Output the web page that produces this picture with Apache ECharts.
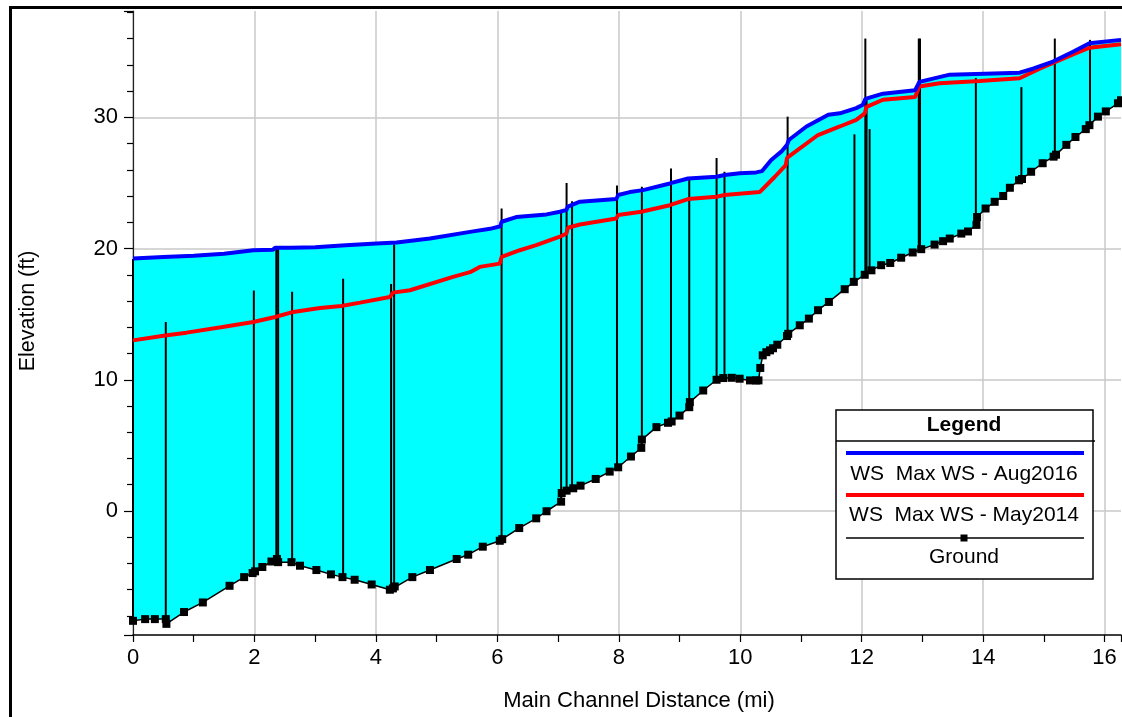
<!DOCTYPE html>
<html lang="en">
<head>
    <meta charset="UTF-8" />
    <title>Profile Plot</title>
    <script src="https://cdn.jsdelivr.net/npm/echarts@6/dist/echarts.min.js"></script>
    <style>
        html, body { margin: 0; padding: 0; background: #fff; }
        #main { width: 1122px; height: 717px; }
    </style>
</head>
<body>
    <div id="main"></div>
<script type="text/javascript">
    // ground profile (mi, ft)
    var groundMi = [0, 0.2, 0.36, 0.54, 0.55, 0.84, 1.15, 1.59, 1.83, 1.97, 2.01, 2.13, 2.28, 2.37, 2.39, 2.61, 2.75,
        3.02, 3.26, 3.45, 3.65, 3.93, 4.23, 4.28, 4.31, 4.6, 4.89, 5.33, 5.52, 5.76, 6.04, 6.08, 6.36, 6.64, 6.81,
        7.05, 7.06, 7.14, 7.25, 7.37, 7.62, 7.85, 7.99, 8.2, 8.37, 8.38, 8.62, 8.81, 8.87, 9.0, 9.16, 9.17, 9.39,
        9.61, 9.72, 9.86, 9.99, 10.16, 10.26, 10.3, 10.33, 10.37, 10.43, 10.49, 10.54, 10.61, 10.77, 10.79, 10.98,
        11.13, 11.28, 11.46, 11.72, 11.87, 12.05, 12.16, 12.32, 12.47, 12.65, 12.84, 12.98, 13.2, 13.34, 13.45,
        13.64, 13.75, 13.89, 13.9, 14.04, 14.19, 14.33, 14.44, 14.59, 14.64, 14.79, 14.98, 15.16, 15.2, 15.37,
        15.52, 15.69, 15.75, 15.89, 16.02, 16.22, 16.27];
    var groundFt = [-8.37, -8.24, -8.24, -8.24, -8.6, -7.7, -6.97, -5.7, -5.04, -4.73, -4.6, -4.27, -3.85, -3.66, -3.9, -3.9, -4.17,
        -4.5, -4.83, -5.04, -5.24, -5.6, -6.0, -5.9, -5.75, -5.04, -4.5, -3.66, -3.33, -2.72, -2.27, -2.15, -1.3, -0.56, -0.02,
        0.71, 1.37, 1.55, 1.73, 1.93, 2.44, 3.0, 3.33, 4.15, 4.81, 5.44, 6.39, 6.72, 6.82, 7.27, 7.91, 8.3, 9.18,
        10.0, 10.13, 10.15, 10.08, 9.95, 9.95, 9.95, 10.9, 11.86, 12.1, 12.24, 12.4, 12.67, 13.33, 13.5, 14.15,
        14.66, 15.3, 15.93, 16.9, 17.46, 18.0, 18.34, 18.73, 18.9, 19.3, 19.7, 19.95, 20.3, 20.56, 20.76,
        21.14, 21.3, 21.8, 22.4, 23.05, 23.56, 24.0, 24.63, 25.2, 25.3, 25.85, 26.5, 27.0, 27.15, 27.9,
        28.5, 29.1, 29.4, 30.05, 30.45, 31.07, 31.3];

    // WS Max WS - Aug2016
    var augMi = [0, 0.5, 1.0, 1.5, 1.98, 2.3, 2.34, 2.6, 3.0, 3.5, 4.01, 4.34, 4.89, 5.55, 5.88, 6.05, 6.07, 6.31,
        6.81, 7.03, 7.14, 7.16, 7.36, 7.96, 7.99, 8.18, 8.4, 8.84, 9.14, 9.61, 9.74, 9.99, 10.26, 10.36, 10.51,
        10.68, 10.77, 10.8, 11.09, 11.45, 11.64, 11.91, 12.02, 12.06, 12.35, 12.88, 12.95, 13.45, 14.6, 14.82,
        15.15, 15.48, 15.75, 16.27];
    var augFt = [19.24, 19.35, 19.45, 19.6, 19.87, 19.9, 20.05, 20.05, 20.1, 20.25, 20.38, 20.46, 20.76, 21.27, 21.5, 21.7, 22.04, 22.4,
        22.6, 22.8, 22.95, 23.2, 23.57, 23.77, 24.08, 24.3, 24.45, 24.96, 25.34, 25.47, 25.6, 25.73, 25.8, 25.9, 26.75,
        27.4, 27.9, 28.27, 29.3, 30.2, 30.3, 30.7, 30.95, 31.4, 31.8, 32.06, 32.7, 33.25, 33.4, 33.7,
        34.25, 35.0, 35.65, 35.9];

    // WS Max WS - May2014
    var mayMi = [0, 0.53, 0.88, 1.45, 1.98, 2.34, 2.64, 3.08, 3.43, 3.74, 4.23, 4.28, 4.56, 5.27, 5.55, 5.71, 6.04,
        6.07, 6.37, 6.64, 7.03, 7.14, 7.16, 7.36, 7.96, 7.99, 8.37, 8.84, 9.14, 9.61, 9.74, 10.32, 10.57, 10.75,
        10.77, 11.28, 11.64, 11.91, 12.05, 12.08, 12.35, 12.88, 12.95, 13.28, 13.94, 14.6, 14.93, 15.48, 15.75, 16.27];
    var mayFt = [13.0, 13.38, 13.59, 14.0, 14.4, 14.78, 15.17, 15.47, 15.62, 15.88, 16.31, 16.64, 16.82, 17.84, 18.2, 18.6, 18.85,
        19.36, 19.87, 20.26, 20.9, 21.15, 21.58, 21.83, 22.29, 22.55, 22.8, 23.3, 23.77, 23.95, 24.08, 24.3, 25.47, 26.36,
        26.9, 28.65, 29.3, 29.8, 30.3, 30.8, 31.34, 31.55, 32.35, 32.6, 32.77, 32.98, 33.7, 34.8, 35.3, 35.57];

    // structure verticals: station, bottom, top
    var structMi = [0, 0.54, 1.99, 2.36, 2.39, 2.62, 3.46, 4.25, 4.3, 6.07, 7.05, 7.14, 7.23, 7.97, 8.38, 8.86,
        9.16, 9.61, 9.74, 10.78, 11.88, 12.06, 12.08, 12.13, 12.94, 12.96, 13.88, 14.63, 15.18, 15.76];
    var structBot = [-8.4, -8.3, -4.7, -3.7, -3.8, -3.9, -5.0, -5.9, -5.8, -2.2, 0.7, 1.5, 1.7, 3.3, 4.9, 6.8,
        7.9, 10.0, 10.1, 13.4, 17.4, 18.0, 18.1, 18.2, 19.9, 19.9, 21.7, 25.2, 27.1, 29.4];
    var structTop = [19.2, 14.4, 16.8, 20.0, 20.0, 16.7, 17.7, 17.3, 20.3, 23.05, 22.7, 25.0, 23.6, 24.8, 24.7, 26.1,
        25.45, 26.9, 25.85, 30.05, 28.7, 36.0, 31.5, 29.1, 36.0, 36.0, 33.0, 32.3, 36.0, 35.9];

    var FONT = "'Liberation Sans', Arial, sans-serif";

    function zip(a, b) {
        var out = [];
        for (var i = 0; i < a.length; i++) out.push([a[i], b[i]]);
        return out;
    }
    var structData = [];
    for (var i = 0; i < structMi.length; i++) structData.push([structMi[i], structBot[i], structTop[i]]);

    // legend box, drawn on top of the plot
    var legendItems = [
        { type: 'rect', shape: { x: 836, y: 410, width: 257, height: 169 }, style: { fill: '#fff', stroke: '#000', lineWidth: 1.5 } },
        { type: 'line', shape: { x1: 836, y1: 441, x2: 1095, y2: 441 }, style: { stroke: '#000', lineWidth: 1.5 } },
        { type: 'text', x: 964, y: 425, style: { text: 'Legend', font: 'bold 21px ' + FONT, fill: '#000', align: 'center', verticalAlign: 'middle' } },
        { type: 'line', shape: { x1: 846, y1: 453, x2: 1084, y2: 453 }, style: { stroke: '#0000ff', lineWidth: 4 } },
        { type: 'text', x: 964, y: 474, style: { text: 'WS  Max WS - Aug2016', font: '21px ' + FONT, fill: '#000', align: 'center', verticalAlign: 'middle' } },
        { type: 'line', shape: { x1: 846, y1: 495, x2: 1084, y2: 495 }, style: { stroke: '#ff0000', lineWidth: 4 } },
        { type: 'text', x: 964, y: 515, style: { text: 'WS  Max WS - May2014', font: '21px ' + FONT, fill: '#000', align: 'center', verticalAlign: 'middle' } },
        { type: 'line', shape: { x1: 846, y1: 538, x2: 1084, y2: 538 }, style: { stroke: '#000', lineWidth: 1.5 } },
        { type: 'rect', shape: { x: 960.5, y: 534.5, width: 7, height: 7 }, style: { fill: '#000' } },
        { type: 'text', x: 964, y: 557, style: { text: 'Ground', font: '21px ' + FONT, fill: '#000', align: 'center', verticalAlign: 'middle' } }
    ];
    legendItems.forEach(function (el, k) {
        el.z = 100 + k;
        el.zlevel = 1;
        el.silent = true;
    });

    var chart = echarts.init(document.getElementById('main'), null, { renderer: 'canvas' });
    chart.setOption({
        animation: false,
        backgroundColor: '#fff',
        textStyle: { fontFamily: FONT },
        grid: { left: 133, right: 1, top: 11, bottom: 80 },
        xAxis: {
            type: 'value',
            min: 0,
            max: 16.27,
            interval: 2,
            name: 'Main Channel Distance (mi)',
            nameLocation: 'middle',
            nameGap: 55,
            nameTextStyle: { fontSize: 22, color: '#000', fontFamily: FONT, padding: [0, 0, 0, 24] },
            axisLine: { onZero: false, lineStyle: { color: '#000', width: 1.5 } },
            axisTick: { length: 7, lineStyle: { color: '#000', width: 1.2 } },
            minorTick: { show: true, splitNumber: 2, length: 7, lineStyle: { color: '#000', width: 1.2 } },
            axisLabel: { fontSize: 22, color: '#000', margin: 12, fontFamily: FONT, showMaxLabel: false },
            splitLine: { show: true, showMaxLine: false, lineStyle: { color: '#c8c8c8', width: 1.5 } }
        },
        yAxis: {
            type: 'value',
            min: -9.45,
            max: 38.1,
            splitNumber: 5,
            minInterval: 10,
            maxInterval: 10,
            name: 'Elevation (ft)',
            nameLocation: 'middle',
            nameGap: 94,
            nameTextStyle: { fontSize: 21.5, color: '#000', fontFamily: FONT, padding: [0, 0, 0, 24] },
            axisLine: { show: true, onZero: false, lineStyle: { color: '#222', width: 1.2 } },
            axisTick: { length: 9, lineStyle: { color: '#000', width: 1.2 } },
            minorTick: { show: true, splitNumber: 5, length: 6, lineStyle: { color: '#000', width: 1.2 } },
            axisLabel: {
                fontSize: 22, color: '#000', margin: 15, fontFamily: FONT,
                showMinLabel: false, showMaxLabel: false
            },
            splitLine: { show: true, showMinLine: false, showMaxLine: false, lineStyle: { color: '#c8c8c8', width: 1.5 } }
        },
        series: [
            {
                // water between the Aug2016 surface and the ground
                name: 'water',
                type: 'custom',
                silent: true,
                z: 1,
                clip: true,
                data: [[0, 0]],
                renderItem: function (params, api) {
                    var pts = [];
                    for (var i = 0; i < augMi.length; i++) pts.push(api.coord([augMi[i], augFt[i]]));
                    for (var j = groundMi.length - 1; j >= 0; j--) pts.push(api.coord([groundMi[j], groundFt[j]]));
                    return { type: 'polygon', shape: { points: pts }, style: { fill: '#00ffff' } };
                }
            },
            {
                name: 'structures',
                type: 'custom',
                silent: true,
                z: 2,
                encode: { x: 0, y: [1, 2] },
                data: structData,
                renderItem: function (params, api) {
                    var x = api.value(0);
                    var p1 = api.coord([x, api.value(1)]);
                    var p2 = api.coord([x, api.value(2)]);
                    return {
                        type: 'line',
                        shape: { x1: p1[0], y1: p1[1], x2: p2[0], y2: p2[1] },
                        style: { stroke: '#000', lineWidth: 2 }
                    };
                }
            },
            {
                name: 'Ground',
                type: 'line',
                z: 3,
                data: zip(groundMi, groundFt),
                symbol: 'rect',
                symbolSize: 8,
                showAllSymbol: true,
                itemStyle: { color: '#000' },
                lineStyle: { color: '#000', width: 1.5 }
            },
            {
                name: 'WS  Max WS - May2014',
                type: 'line',
                z: 4,
                data: zip(mayMi, mayFt),
                showSymbol: false,
                lineStyle: { color: '#ff0000', width: 4 }
            },
            {
                name: 'WS  Max WS - Aug2016',
                type: 'line',
                z: 5,
                data: zip(augMi, augFt),
                showSymbol: false,
                lineStyle: { color: '#0000ff', width: 4 }
            }
        ],
        graphic: [
            {
                type: 'rect', left: 8, top: 5, z: 0, silent: true,
                shape: { width: 1200, height: 800 },
                style: { fill: null, stroke: '#000', lineWidth: 3 }
            }
        ].concat(legendItems)
    });
</script>
</body>
</html>
